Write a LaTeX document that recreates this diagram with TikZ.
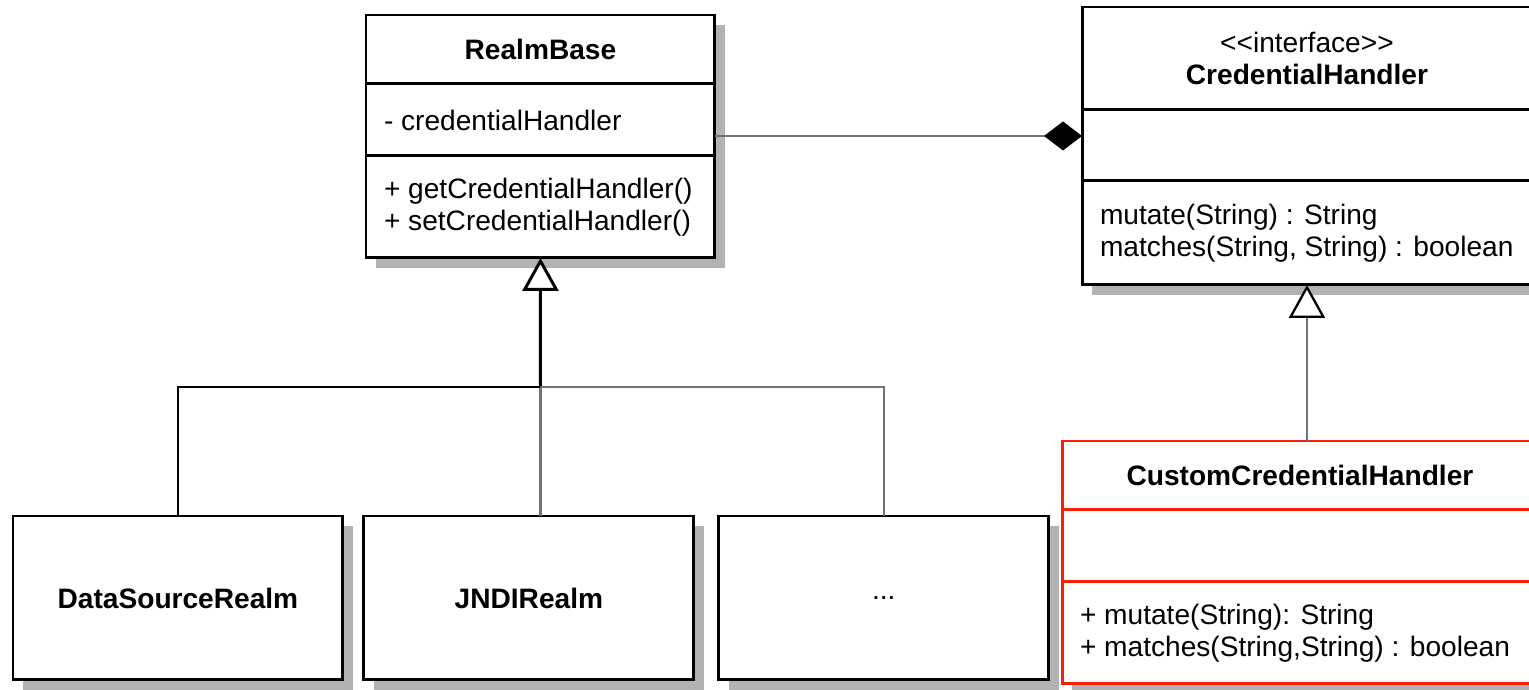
\documentclass[tikz,border=0pt]{standalone}
\usepackage{fontspec}
\setmainfont{Liberation Sans}
\usetikzlibrary{arrows.meta, positioning, shadows, calc}
\definecolor{umlred}{RGB}{250,30,10}
\newcommand{\umlfont}{\fontsize{16}{18.2}\selectfont}
\tikzstyle{classpart} = [rectangle, draw=black, line width=1.7pt, fill=white, outer sep=0pt, inner xsep=0.36cm, inner ysep=0pt, align=flush left, font=\umlfont, drop shadow={shadow xshift=0.2cm, shadow yshift=-0.2cm, fill=black!30, opacity=1}]
\tikzstyle{classname} = [classpart, align=center, font=\umlfont\bfseries]
\tikzstyle{realm} = [classname, minimum width=6.6cm, minimum height=3.28cm]
\tikzstyle{link} = [line width=1.3pt, draw=black!55]
\tikzstyle{inherit} = [link, -{Triangle[length=0.66cm, width=0.72cm, color=black, fill=white]}]
\tikzstyle{compose} = [link, -{Diamond[length=0.76cm, width=0.58cm, color=black]}]

\begin{document}
\begin{tikzpicture}[x=0.02cm, y=-0.02cm]
    \useasboundingbox (0,0) rectangle (1529,690);

    % RealmBase
    \node (rbname) [classname, text width=6.26cm, minimum height=1.38cm, anchor=north west] at (366,15) {RealmBase};
    \node (rbattr) [classpart, text width=6.26cm, minimum height=1.44cm, below=0pt of rbname] {- credentialHandler};
    \node (rbops) [classpart, text width=6.26cm, minimum height=2.04cm, below=0pt of rbattr] {+ getCredentialHandler()\\+ setCredentialHandler()};

    % CredentialHandler (runs off the right edge)
    \node (chname) [classname, text width=8.28cm, minimum height=2.06cm, anchor=north west] at (1082,7) {{\mdseries <\kern0pt<interface>\kern0pt>}\\CredentialHandler};
    \node (chattr) [classpart, text width=9.2cm, minimum height=1.42cm, anchor=north west] at (chname.south west) {};
    \node (chops) [classpart, text width=9.2cm, minimum height=2.08cm, anchor=north west] at (chattr.south west) {mutate(String) : String\\matches(String, String) : boolean};

    % CustomCredentialHandler
    \node (cuname) [classname, draw=umlred, text width=8.8cm, minimum height=1.38cm, anchor=north west] at (1062,441) {CustomCredentialHandler};
    \node (cuattr) [classpart, draw=umlred, text width=8.8cm, minimum height=1.44cm, below=0pt of cuname] {};
    \node (cuops) [classpart, draw=umlred, text width=8.8cm, minimum height=2.04cm, below=0pt of cuattr] {+ mutate(String): String\\+ matches(String,String) : boolean};

    % realms
    \node (ds) [realm, anchor=north west] at (13,516) {DataSourceRealm};
    \node (jndi) [realm, right=0.42cm of ds] {JNDIRealm};
    \node (dots) [realm, font=\umlfont, right=0.5cm of jndi] {...};

    \coordinate (comp) at ([yshift=-0.32cm]rbattr.east);
    \coordinate (bus) at ($(rbops.south)!0.5!(rbops.south |- jndi.north)$);

    \draw [compose] (comp) -- (comp -| chattr.west);
    \draw [inherit, draw=black, line width=1.7pt] (bus) -- (rbops.south);
    \draw [link] (jndi.north -| bus) -- (bus);
    \draw [link, draw=black, line width=0.8pt] (ds.north) |- (bus);
    \draw [link] (dots.north) |- (bus);
    \draw [inherit] (chname.south |- cuname.north) -- (chname.south |- chops.south);
\end{tikzpicture}
\end{document}
